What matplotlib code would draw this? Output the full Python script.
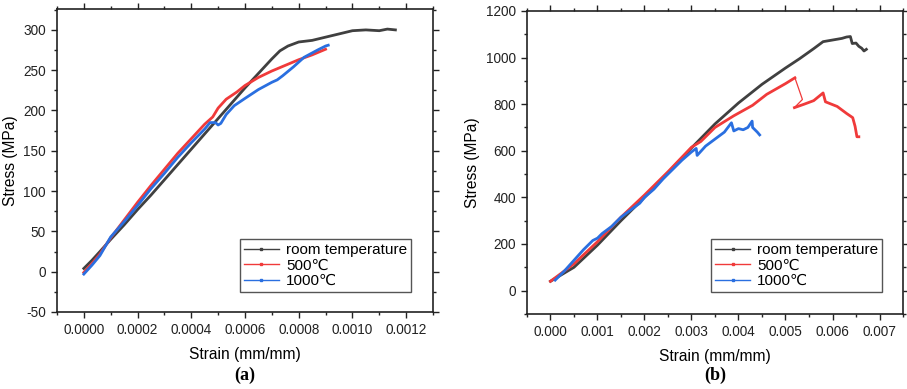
import matplotlib
matplotlib.use("Agg")
import matplotlib.pyplot as plt
from matplotlib.lines import Line2D
from matplotlib.ticker import MultipleLocator, FormatStrFormatter

plt.rcParams['font.family'] = ['Liberation Sans', 'DejaVu Sans', 'Noto Sans CJK SC']
plt.rcParams['axes.unicode_minus'] = False

labels = ["room temperature", "500\u2103", "1000\u2103"]
colors = ["#404040", "#f03a3a", "#2a6fe0"]

# Panel (a)
rt_a_x = [0, 0.00003, 0.00006, 0.0001, 0.00015, 0.0002, 0.00025, 0.0003, 0.00035, 0.0004,
          0.00045, 0.0005, 0.00055, 0.0006, 0.00065, 0.0007, 0.00073, 0.00076, 0.0008,
          0.00085, 0.0009, 0.00095, 0.001, 0.00105, 0.0011, 0.00113, 0.00116]
rt_a_y = [4, 14, 25, 40, 58, 77, 95, 114, 133, 152, 171, 190, 209, 228, 246, 264, 274, 280,
          285, 287, 291, 295, 299, 300, 299, 301, 300]
t500_a_x = [0, 0.00003, 0.00006, 0.0001, 0.00015, 0.0002, 0.00025, 0.0003, 0.00035, 0.0004,
            0.00045, 0.00048, 0.0005, 0.00053, 0.00057, 0.0006, 0.00065, 0.0007, 0.00075,
            0.0008, 0.00085, 0.0009]
t500_a_y = [-1, 10, 22, 42, 64, 86, 107, 127, 147, 165, 183, 192, 203, 214, 223, 231, 241,
            249, 256, 263, 269, 276]
t1000_a_x = [0, 0.00003, 0.00006, 0.0001, 0.00015, 0.0002, 0.00025, 0.0003, 0.00035, 0.0004,
             0.00045, 0.00047, 0.00049, 0.0005, 0.00051, 0.00053, 0.00056, 0.0006, 0.00065,
             0.0007, 0.00072, 0.00074, 0.00078, 0.00082, 0.00087, 0.0009, 0.00091]
t1000_a_y = [-3, 8, 20, 43, 62, 82, 103, 122, 142, 160, 177, 185, 185, 182, 184, 195, 206,
             215, 226, 235, 238, 243, 254, 266, 275, 280, 281]

# Panel (b)
rt_b_x = [0, 0.0005, 0.001, 0.0015, 0.002, 0.0025, 0.003, 0.0035, 0.004, 0.0045, 0.005,
          0.0053, 0.0056, 0.0058, 0.006, 0.0062, 0.0063, 0.00638, 0.00642, 0.0065, 0.00656,
          0.00662, 0.00667, 0.00672]
rt_b_y = [40, 100, 195, 300, 400, 505, 612, 715, 805, 885, 955, 995, 1038, 1068, 1075, 1082,
          1088, 1090, 1060, 1062, 1048, 1040, 1028, 1035]
# 500 C in panel (b): loading part, sudden-drop link, post-drop part
t500_b_x = [0, 0.0005, 0.001, 0.0015, 0.002, 0.0025, 0.003, 0.0032, 0.0035, 0.0039, 0.0043,
            0.0046, 0.005, 0.0052]
t500_b_y = [40, 115, 210, 315, 410, 510, 615, 640, 700, 750, 795, 842, 888, 913]
t500_b_link_x = [0.0052, 0.00536, 0.00519]
t500_b_link_y = [913, 820, 785]
t500_b_post_x = [0.00519, 0.0054, 0.0056, 0.0058, 0.00585, 0.0061, 0.0063, 0.00643,
                 0.00648, 0.00652, 0.00656]
t500_b_post_y = [785, 800, 815, 848, 810, 790, 760, 742, 705, 660, 660]
t1000_b_x = [0.0001, 0.0003, 0.0005, 0.0007, 0.0009, 0.001, 0.0011, 0.0013, 0.0015, 0.0017,
             0.0019, 0.002, 0.0022, 0.0024, 0.0026, 0.0028, 0.003, 0.0031, 0.00312, 0.0033,
             0.0035, 0.0037, 0.00385, 0.0039, 0.004, 0.0041, 0.0042, 0.00429, 0.0043,
             0.00435, 0.0044, 0.00445]
t1000_b_y = [45, 85, 130, 175, 215, 225, 245, 275, 315, 345, 375, 400, 435, 480, 520, 560,
             595, 610, 580, 620, 650, 680, 720, 685, 695, 690, 700, 727, 700, 690, 680, 668]

fig = plt.figure(figsize=(9.07, 3.89), dpi=100)
axa = fig.add_axes([0.0628, 0.198, 0.4146, 0.779])
axb = fig.add_axes([0.581, 0.193, 0.4146, 0.779])


def style(ax):
    for s in ax.spines.values():
        s.set_linewidth(1.2)
        s.set_color("#222222")
    ax.tick_params(which='both', direction='out', top=True, right=True, width=1.0,
                   labelsize=9.8, colors="#222222")
    ax.tick_params(which='major', length=4.5)
    ax.tick_params(which='minor', length=2.5)
    ax.tick_params(labeltop=False, labelright=False)


series_a = [(rt_a_x, rt_a_y), (t500_a_x, t500_a_y), (t1000_a_x, t1000_a_y)]
for (xs, ys), c in zip(series_a, colors):
    axa.plot(xs, ys, color=c, lw=2.0, solid_joinstyle='round')

axb.plot(rt_b_x, rt_b_y, color=colors[0], lw=2.0, solid_joinstyle='round')
axb.plot(t500_b_x, t500_b_y, color=colors[1], lw=2.0, solid_joinstyle='round')
axb.plot(t500_b_link_x, t500_b_link_y, color=colors[1], lw=0.9)
axb.plot(t500_b_post_x, t500_b_post_y, color=colors[1], lw=2.0, solid_joinstyle='round')
axb.plot(t1000_b_x, t1000_b_y, color=colors[2], lw=2.0, solid_joinstyle='round')

axa.set_xlim(-0.0001, 0.0013)
axa.set_ylim(-50, 326)
axa.xaxis.set_major_locator(MultipleLocator(0.0002))
axa.xaxis.set_minor_locator(MultipleLocator(0.0001))
axa.yaxis.set_major_locator(MultipleLocator(50))
axa.yaxis.set_minor_locator(MultipleLocator(25))
axa.xaxis.set_major_formatter(FormatStrFormatter('%.4f'))

axb.set_xlim(-0.0005, 0.0075)
axb.set_ylim(-100, 1200)
axb.xaxis.set_major_locator(MultipleLocator(0.001))
axb.xaxis.set_minor_locator(MultipleLocator(0.0005))
axb.yaxis.set_major_locator(MultipleLocator(200))
axb.yaxis.set_minor_locator(MultipleLocator(100))
axb.xaxis.set_major_formatter(FormatStrFormatter('%.3f'))

for ax in (axa, axb):
    style(ax)
    ax.set_xlabel("Strain (mm/mm)", fontsize=11.2, labelpad=7)
    ax.set_ylabel("Stress (MPa)", fontsize=11.2, labelpad=4)

handles = [Line2D([], [], color=c, lw=1.0, marker='s', markersize=1.8) for c in colors]
legend_kw = dict(loc='lower right', borderaxespad=0, fancybox=False, edgecolor="#555555",
                 framealpha=1, fontsize=11, handlelength=2.3, handletextpad=0.45,
                 labelspacing=0.1, borderpad=0.25)
axa.legend(handles, labels, bbox_to_anchor=(0.941, 0.066), **legend_kw)
axb.legend(handles, labels, bbox_to_anchor=(0.944, 0.073), **legend_kw)

fig.text(245 / 907, 1 - 375 / 389, "(a)", family="Liberation Serif", weight="bold",
         fontsize=13, ha='center', va='center')
fig.text(715 / 907, 1 - 375 / 389, "(b)", family="Liberation Serif", weight="bold",
         fontsize=13, ha='center', va='center')

fig.savefig("out.png", dpi=100)
